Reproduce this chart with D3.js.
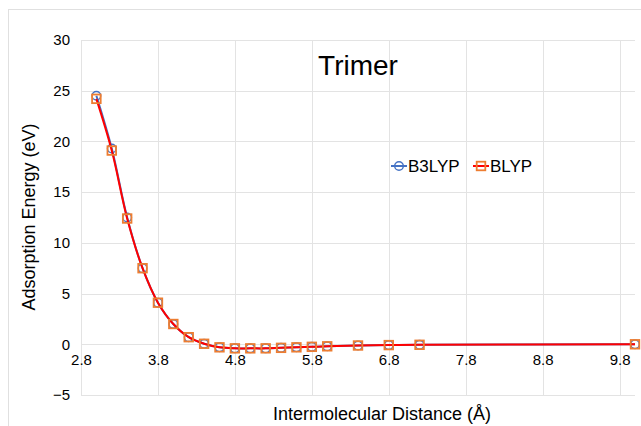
<!DOCTYPE html>
<html>
<head>
<meta charset="utf-8">
<script src="https://cdn.jsdelivr.net/npm/d3@7"></script>
<style>
  body { margin: 0; background: #fff; }
  svg text { font-family: "Liberation Sans", Arial, sans-serif; fill: #000; }
</style>
</head>
<body>
<svg id="chart" width="641" height="426"></svg>
<script>
"use strict";

var distance = [3.0, 3.2, 3.4, 3.6, 3.8, 4.0, 4.2, 4.4, 4.6, 4.8, 5.0, 5.2, 5.4, 5.6, 5.8, 6.0, 6.4, 6.8, 7.2, 10.0];
var b3lyp = [24.5, 19.3, 12.5, 7.5, 4.1, 2.0, 0.7, 0.05, -0.3, -0.4, -0.4, -0.4, -0.35, -0.3, -0.25, -0.2, -0.12, -0.08, -0.05, 0.0];
var blyp  = [24.2, 19.1, 12.4, 7.5, 4.1, 2.0, 0.7, 0.05, -0.3, -0.4, -0.4, -0.4, -0.35, -0.3, -0.25, -0.2, -0.12, -0.08, -0.05, 0.0];
var xTicks = [2.8, 3.8, 4.8, 5.8, 6.8, 7.8, 8.8, 9.8];
var yTicks = [-5, 0, 5, 10, 15, 20, 25, 30];

var svg = d3.select("#chart");
var gridColor = "#e3e3e3";

// chart area border
svg.append("rect")
    .attr("x", 8.5).attr("y", 9.5)
    .attr("width", 700).attr("height", 500)
    .attr("fill", "#fff")
    .attr("stroke", "#e0e0e0");

var x = d3.scaleLinear().domain([2.8, 10.0]).range([81, 635]);
var y = d3.scaleLinear().domain([-5, 30]).range([395, 40]);

// gridlines
svg.append("g").selectAll("line")
    .data(yTicks)
  .enter().append("line")
    .attr("x1", x(2.8)).attr("x2", x(10.0))
    .attr("y1", function (d) { return Math.round(y(d)) + 0.5; })
    .attr("y2", function (d) { return Math.round(y(d)) + 0.5; })
    .attr("stroke", gridColor);

svg.append("g").selectAll("line")
    .data(xTicks)
  .enter().append("line")
    .attr("x1", function (d) { return Math.round(x(d)) + 0.5; })
    .attr("x2", function (d) { return Math.round(x(d)) + 0.5; })
    .attr("y1", y(30)).attr("y2", y(-5))
    .attr("stroke", gridColor);

// y axis labels
var yAxis = d3.axisLeft(y).tickValues(yTicks).tickSize(0).tickPadding(11);
svg.append("g")
    .attr("transform", "translate(" + x(2.8) + ",0)")
    .call(yAxis)
    .call(function (g) { g.select(".domain").remove(); })
    .selectAll("text")
    .style("font-size", "15px")
    .style("font-family", "Liberation Sans, Arial, sans-serif")
    .attr("fill", "#000");

// x axis labels sit just below the zero line
var xAxis = d3.axisBottom(x).tickValues(xTicks).tickFormat(d3.format(".1f")).tickSize(0).tickPadding(10);
svg.append("g")
    .attr("transform", "translate(0," + y(0) + ")")
    .call(xAxis)
    .call(function (g) { g.select(".domain").remove(); })
    .selectAll("text")
    .style("font-size", "15px")
    .style("font-family", "Liberation Sans, Arial, sans-serif")
    .attr("fill", "#000");

// series
var series = [
  { name: "B3LYP", values: b3lyp, line: "#4472C4", marker: "#4472C4", shape: "circle" },
  { name: "BLYP",  values: blyp,  line: "#FF0000", marker: "#ED7D31", shape: "square" }
];

var lineGen = d3.line()
    .x(function (d) { return x(d[0]); })
    .y(function (d) { return y(d[1]); })
    .curve(d3.curveCatmullRom.alpha(0.5));

function drawMarker(sel, s) {
  if (s.shape === "circle") {
    sel.append("circle").attr("r", 4.3)
        .attr("fill", "none").attr("stroke", s.marker).attr("stroke-width", 1.4);
  } else {
    sel.append("rect").attr("x", -4.3).attr("y", -4.3).attr("width", 8.6).attr("height", 8.6)
        .attr("fill", "none").attr("stroke", s.marker).attr("stroke-width", 1.8);
  }
}

series.forEach(function (s) {
  var pts = distance.map(function (d, i) { return [d, s.values[i]]; });
  svg.append("path")
      .datum(pts)
      .attr("d", lineGen)
      .attr("fill", "none")
      .attr("stroke", s.line)
      .attr("stroke-width", 2);
  svg.append("g").selectAll("g")
      .data(pts)
    .enter().append("g")
      .attr("transform", function (d) { return "translate(" + x(d[0]) + "," + y(d[1]) + ")"; })
      .each(function () { drawMarker(d3.select(this), s); });
});

// title
svg.append("text")
    .attr("x", 358).attr("y", 75)
    .attr("text-anchor", "middle")
    .style("font-size", "28px")
    .text("Trimer");

// legend
var legendPos = [391, 473];
series.forEach(function (s, i) {
  var g = svg.append("g").attr("transform", "translate(" + legendPos[i] + ",166)");
  g.append("line").attr("x1", 0).attr("x2", 16).attr("y1", 0).attr("y2", 0)
      .attr("stroke", s.line).attr("stroke-width", 2);
  drawMarker(g.append("g").attr("transform", "translate(8,0)"), s);
  g.append("text").attr("x", 17).attr("y", 6)
      .style("font-size", "17px")
      .text(s.name);
});

// axis titles
svg.append("text")
    .attr("transform", "translate(35,217) rotate(-90)")
    .attr("text-anchor", "middle")
    .style("font-size", "18px")
    .text("Adsorption Energy (eV)");

svg.append("text")
    .attr("x", 382).attr("y", 420)
    .attr("text-anchor", "middle")
    .style("font-size", "18px")
    .text("Intermolecular Distance (Å)");
</script>
</body>
</html>
